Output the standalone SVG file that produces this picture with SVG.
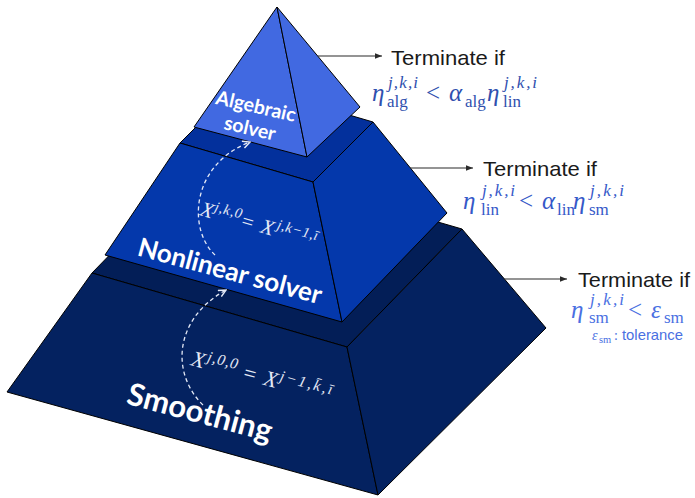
<svg xmlns="http://www.w3.org/2000/svg" width="695" height="498" viewBox="0 0 695 498">
<defs>
<style>
.edge{stroke:#000;stroke-width:1;stroke-linejoin:round}
.top-s{fill:#031e57}.face-s{fill:#042260}
.top-n{fill:#03309c}.face-n{fill:#0438ab}
.face-a{fill:#4169e1}
.lbl{font-family:Lato,"Open Sans",sans-serif;font-weight:700;fill:#fff;text-anchor:middle}
.term{font-family:"Liberation Sans",Arial,sans-serif;font-size:21px;fill:#1a1a1a}
.mi{font-family:"Liberation Serif",serif;font-style:italic}
.mr{font-family:"Liberation Serif",serif}
.big{font-size:25px}.sc{font-size:17px}
.c1{fill:#2f4fae}.c2{fill:#3558c8}.c3{fill:#4a70e2}
.xw{fill:#e4e9f6}
.conn{stroke:#2a2a2a;stroke-width:1.2;fill:none}
.dash{stroke:#e4e9f6;stroke-width:1.3;fill:none;stroke-dasharray:4 3}
</style>
<marker id="ah" viewBox="0 0 8 8" refX="7" refY="4" markerWidth="8" markerHeight="8" markerUnits="userSpaceOnUse" orient="auto">
<path d="M0,1.2 L7,4 L0,6.8 z" fill="#2a2a2a"/>
</marker>
<marker id="ahw" viewBox="0 0 8 8" refX="7" refY="4" markerWidth="9" markerHeight="9" markerUnits="userSpaceOnUse" orient="auto">
<path d="M0.5,0.8 L7,4 L0.5,7.2" fill="none" stroke="#e4e9f6" stroke-width="1.3"/>
</marker>
</defs>
<rect width="695" height="498" fill="#fff"/>

<g id="node-smoothing">
<polygon class="top-s edge" points="92,273 207,155 462,229 347,347"/>
<polygon class="face-s edge" points="92,273 347,347 378,495 7,392"/>
<polygon class="face-s edge" points="347,347 462,229 546,328 378,495"/>
<text class="lbl" font-size="31" transform="translate(200,412) rotate(15)" y="11">Smoothing</text>
</g>

<g id="node-nonlinear">
<polygon class="top-n edge" points="180,143 240,83 373,122 313,182"/>
<polygon class="face-n edge" points="180,143 313,182 342,322 105,255"/>
<polygon class="face-n edge" points="313,182 373,122 447,213 342,322"/>
<text class="lbl" font-size="26" transform="translate(230,271) rotate(15)" y="9">Nonlinear solver</text>
</g>

<g id="node-algebraic">
<polygon class="face-a edge" points="277,7 194,127 307,157"/>
<polygon class="face-a edge" points="277,7 307,157 360,107"/>
<text class="lbl" font-size="19.5" transform="translate(256,106) rotate(13)" y="7">Algebraic</text>
<text class="lbl" font-size="19.5" transform="translate(250,128) rotate(13)" y="7">solver</text>
</g>

<g id="connectors">
<line class="conn" x1="318" y1="56" x2="382" y2="56" marker-end="url(#ah)"/>
<line class="conn" x1="410" y1="168" x2="473" y2="168" marker-end="url(#ah)"/>
<line class="conn" x1="504" y1="279" x2="567" y2="279" marker-end="url(#ah)"/>
<path class="dash" d="M203,405 C172,375 172,320 226,290" marker-end="url(#ahw)"/>
<path class="dash" d="M215,255 C188,230 190,165 250,142" marker-end="url(#ahw)"/>
</g>

<g id="transfer-labels">
<g transform="translate(199,215) rotate(16)" class="xw">
<text class="mi" font-size="21" x="0" y="0">X</text>
<text class="mi" font-size="14.5" x="13" y="-8" textLength="28" lengthAdjust="spacing">j,k,0</text>
<text class="mr" font-size="21" x="43" y="0">=</text>
<text class="mi" font-size="21" x="63" y="0">X</text>
<text class="mi" font-size="14.5" x="78" y="-8" textLength="42" lengthAdjust="spacing">j,k−1,ī</text>
</g>
<g transform="translate(190,365) rotate(15)" class="xw">
<text class="mi" font-size="22" x="0" y="0">X</text>
<text class="mi" font-size="15.5" x="15" y="-8" textLength="31" lengthAdjust="spacing">j,0,0</text>
<text class="mr" font-size="22" x="54" y="0">=</text>
<text class="mi" font-size="22" x="75" y="0">X</text>
<text class="mi" font-size="15.5" x="90" y="-8" textLength="54" lengthAdjust="spacing">j−1,k̄,ī</text>
</g>
</g>

<g id="cond-algebraic">
<text class="term" x="391" y="65" textLength="114" lengthAdjust="spacingAndGlyphs">Terminate if</text>
<g class="c1">
<text class="mi big" x="372" y="101">η</text>
<text class="mi sc" x="388" y="88" textLength="30" lengthAdjust="spacing">j,k,i</text>
<text class="mr sc" x="387" y="107">alg</text>
<text class="mr big" x="426" y="101">&lt;</text>
<text class="mi big" x="449" y="101">α</text>
<text class="mr sc" x="465" y="107">alg</text>
<text class="mi big" x="487" y="101">η</text>
<text class="mi sc" x="504" y="88" textLength="33" lengthAdjust="spacing">j,k,i</text>
<text class="mr sc" x="503" y="107">lin</text>
</g>
</g>

<g id="cond-nonlinear">
<text class="term" x="483" y="176" textLength="114" lengthAdjust="spacingAndGlyphs">Terminate if</text>
<g class="c2">
<text class="mi big" x="463" y="209">η</text>
<text class="mi sc" x="482" y="196" textLength="33" lengthAdjust="spacing">j,k,i</text>
<text class="mr sc" x="481" y="215">lin</text>
<text class="mr big" x="519" y="209">&lt;</text>
<text class="mi big" x="542" y="209">α</text>
<text class="mr sc" x="557" y="215">lin</text>
<text class="mi big" x="573" y="209">η</text>
<text class="mi sc" x="590" y="196" textLength="34" lengthAdjust="spacing">j,k,i</text>
<text class="mr sc" x="589" y="215">sm</text>
</g>
</g>

<g id="cond-smoothing">
<text class="term" x="578" y="287" textLength="112" lengthAdjust="spacingAndGlyphs">Terminate if</text>
<g class="c3">
<text class="mi big" x="571" y="318">η</text>
<text class="mi sc" x="590" y="305" textLength="34" lengthAdjust="spacing">j,k,i</text>
<text class="mr sc" x="589" y="323">sm</text>
<text class="mr big" x="628" y="318">&lt;</text>
<text class="mi big" x="651" y="318">ε</text>
<text class="mr sc" x="664" y="323">sm</text>
<text class="mi" font-size="14" x="592" y="340">ε</text>
<text class="mr" font-size="10.5" x="599" y="343">sm</text>
<text class="mr" font-size="14" x="614" y="340">:</text>
<text font-family="'Liberation Sans',Arial,sans-serif" font-size="14.5" x="622" y="340" textLength="61" lengthAdjust="spacingAndGlyphs">tolerance</text>
</g>
</g>
</svg>
